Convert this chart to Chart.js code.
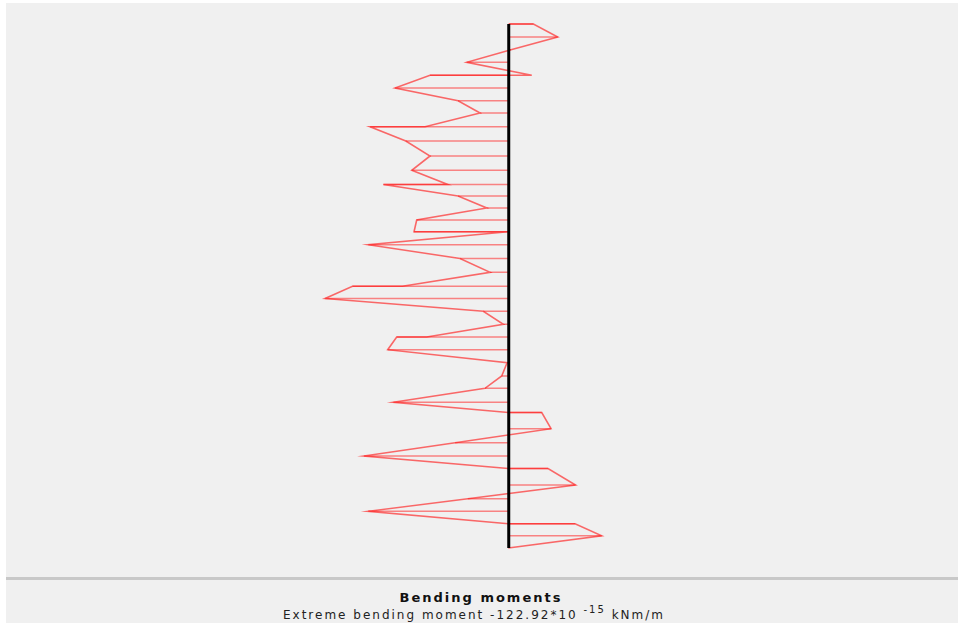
<!DOCTYPE html>
<html>
<head>
<meta charset="utf-8">
<script src="https://cdn.jsdelivr.net/npm/chart.js@4/dist/chart.umd.min.js"></script>
<style>
  html, body { margin: 0; padding: 0; background: #ffffff; width: 958px; height: 623px; overflow: hidden; }
  #plot { position: absolute; left: 6px; top: 3px; width: 952px; height: 575px; background: #f0f0f0; }
  #foot { position: absolute; left: 6px; top: 577px; width: 952px; height: 46px; background: #f0f0f0; border-top: 3px solid #c8c8c8; box-sizing: border-box; }
  #t1 { position: absolute; left: 0; width: 950px; top: 10px; text-align: center; font-family: "DejaVu Sans", sans-serif; font-weight: bold; font-size: 13px; letter-spacing: 2px; color: #111; }
  #t2 { position: absolute; left: 0; width: 936px; top: 25px; text-align: center; font-family: "DejaVu Sans", sans-serif; font-size: 12px; letter-spacing: 2px; color: #222; }
  #t2 sup { font-size: 10px; position: relative; top: -1px; }
</style>
</head>
<body>
<div id="plot"><canvas id="c" width="952" height="575"></canvas></div>
<div id="foot">
  <div id="t1">Bending moments</div>
  <div id="t2">Extreme bending moment -122.92*10 <sup>-15</sup> kNm/m</div>
</div>
<script>
// Station depths (from top of member) and bending moment values (x10^-15 kNm/m)
const stationDepth = [0, 13, 25.7, 38.3, 51.3, 64, 76.7, 89, 102.7, 117, 132, 146.3, 160.5, 172, 184, 196, 207.7, 220.7, 234.5, 248.3, 262.3, 274.5, 287.3, 300.3, 313, 325.7, 338.7, 352, 364.3, 378.3, 388.5, 404.7, 418.7, 432, 444.5, 461, 474.7, 487.3, 499.7, 511.7, 524];
// moment arriving at a station from the element above
const momentAbove = [0, 32.8, 1.5, -28.1, 15.4, -76.1, -33.9, -19.2, -56.0, -68.9, -52.7, -64.9, -40.8, -33.9, -14.7, -61.6, -63.4, -94.0, -32.6, -12.5, -71.2, -122.92, -17.0, -3.6, -54.9, -81.0, -1.1, -4.7, -15.9, -77.2, -0.3, 28.3, -35.9, -96.9, -0.3, 44.7, -27.4, -94.0, -0.3, 62.2, -0.3];
// moment leaving a station into the element below
const momentBelow = [16.5, 32.8, 1.5, -28.1, -52.7, -76.1, -33.9, -19.2, -92.8, -68.9, -52.7, -64.9, -83.9, -33.9, -14.7, -61.6, -0.5, -94.0, -32.6, -12.5, -104.6, -122.92, -17.0, -3.6, -75.0, -81.0, -1.1, -4.7, -15.9, -77.2, 22.1, 28.3, -35.9, -96.9, 26.3, 44.7, -27.4, -94.0, 44.4, 62.2, 0];

const curve = [];
const hatch = [];
for (let i = 0; i < stationDepth.length; i++) {
  const d = stationDepth[i];
  curve.push({ x: momentAbove[i], y: d });
  if (momentBelow[i] !== momentAbove[i]) curve.push({ x: momentBelow[i], y: d });
  const v = Math.abs(momentAbove[i]) > Math.abs(momentBelow[i]) ? momentAbove[i] : momentBelow[i];
  hatch.push({ x: 0, y: d }, { x: v, y: d }, { x: null, y: null });
}
const axisLine = [{ x: 0, y: stationDepth[0] }, { x: 0, y: stationDepth[stationDepth.length - 1] }];

new Chart(document.getElementById('c'), {
  type: 'scatter',
  data: {
    datasets: [
      { data: axisLine, showLine: true, borderColor: '#000000', borderWidth: 3, pointRadius: 0, order: 0 },
      { data: curve, showLine: true, borderColor: 'rgba(255,20,20,0.62)', borderWidth: 1.6, pointRadius: 0, order: 1 },
      { data: hatch, showLine: true, spanGaps: false, borderColor: 'rgba(255,40,40,0.55)', borderWidth: 1.6, pointRadius: 0, order: 2 }
    ]
  },
  options: {
    responsive: false,
    animation: false,
    devicePixelRatio: 1,
    layout: { padding: 0 },
    plugins: { legend: { display: false }, tooltip: { enabled: false } },
    scales: {
      x: { type: 'linear', min: -336.5, max: 300.7, display: false },
      y: { type: 'linear', reverse: true, min: -21, max: 554, display: false }
    }
  }
});
</script>
</body>
</html>
